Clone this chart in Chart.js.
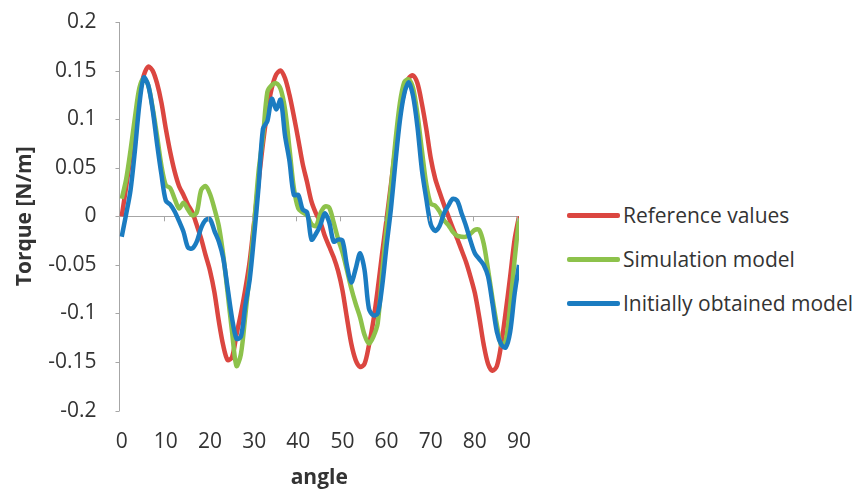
<!DOCTYPE html>
<html>
<head>
<meta charset="utf-8">
<script src="https://cdn.jsdelivr.net/npm/chart.js@4.4.1/dist/chart.umd.min.js"></script>
<style>
  body { margin: 0; background: #fff; }
  #page { position: relative; width: 859px; height: 491px; overflow: hidden; }
  #wrap { position: absolute; left: 0; top: 0; width: 540px; height: 491px; }
  #legend { position: absolute; left: 567px; top: 193px; font-family: 'Open Sans', sans-serif; font-size: 21px; color: #333; }
  .legend-item { display: flex; align-items: center; height: 44px; white-space: nowrap; }
  .legend-line { width: 53px; height: 5px; border-radius: 2px; margin-right: 3px; }
</style>
</head>
<body>
<div id="page">
  <div id="wrap"><canvas id="torque-chart"></canvas></div>
  <div id="legend"></div>
</div>
<script>
const angles = [];
for (let a = 0; a <= 90; a++) angles.push(a);

const seriesNames = ["Reference values", "Simulation model", "Initially obtained model"];

const referenceValues = [
  0.000, 0.030, 0.062, 0.095, 0.125, 0.145, 0.154, 0.150, 0.137, 0.117,
  0.090, 0.066, 0.046, 0.031, 0.022, 0.012, 0.004, -0.009, -0.023, -0.040,
  -0.056, -0.078, -0.108, -0.133, -0.148, -0.145, -0.122, -0.100, -0.075, -0.046,
  -0.006, 0.035, 0.075, 0.108, 0.132, 0.146, 0.150, 0.142, 0.125, 0.103,
  0.079, 0.054, 0.035, 0.015, 0.003, -0.006, -0.020, -0.031, -0.042, -0.056,
  -0.076, -0.104, -0.131, -0.148, -0.155, -0.152, -0.133, -0.108, -0.075, -0.038,
  -0.003, 0.033, 0.070, 0.105, 0.128, 0.142, 0.145, 0.137, 0.116, 0.090,
  0.060, 0.039, 0.025, 0.012, 0.000, -0.012, -0.023, -0.035, -0.047, -0.062,
  -0.079, -0.104, -0.132, -0.152, -0.159, -0.154, -0.131, -0.098, -0.062, -0.024,
  0.000
];

const simulationValues = [
  0.018, 0.038, 0.068, 0.102, 0.132, 0.142, 0.135, 0.112, 0.083, 0.052,
  0.032, 0.029, 0.018, 0.008, 0.014, 0.007, 0.001, 0.004, 0.027, 0.031,
  0.023, 0.008, -0.010, -0.040, -0.079, -0.119, -0.154, -0.142, -0.102, -0.058,
  -0.008, 0.046, 0.082, 0.128, 0.135, 0.137, 0.131, 0.110, 0.070, 0.029,
  0.008, 0.004, 0.001, -0.008, -0.010, 0.003, 0.010, 0.009, -0.006, -0.023,
  -0.037, -0.055, -0.074, -0.090, -0.104, -0.122, -0.131, -0.124, -0.110, -0.058,
  -0.012, 0.030, 0.077, 0.116, 0.138, 0.141, 0.132, 0.105, 0.068, 0.033,
  0.013, 0.011, 0.005, -0.004, -0.009, -0.016, -0.020, -0.021, -0.021, -0.018,
  -0.014, -0.014, -0.028, -0.055, -0.085, -0.112, -0.133, -0.128, -0.092, -0.045,
  -0.002
];

const initialModelValues = [
  -0.021, 0.002, 0.027, 0.068, 0.115, 0.143, 0.135, 0.110, 0.075, 0.043,
  0.016, 0.012, 0.005, -0.005, -0.016, -0.032, -0.033, -0.026, -0.012, -0.004,
  -0.003, -0.015, -0.026, -0.043, -0.074, -0.105, -0.126, -0.124, -0.092, -0.065,
  -0.020, 0.030, 0.090, 0.098, 0.121, 0.110, 0.120, 0.083, 0.057, 0.022,
  0.022, 0.007, 0.004, -0.024, -0.018, -0.009, 0.003, -0.006, -0.026, -0.024,
  -0.025, -0.050, -0.068, -0.054, -0.038, -0.055, -0.095, -0.102, -0.100, -0.072,
  -0.030, 0.008, 0.055, 0.098, 0.126, 0.138, 0.124, 0.092, 0.048, 0.018,
  -0.008, -0.015, -0.010, 0.003, 0.011, 0.018, 0.016, 0.003, -0.010, -0.025,
  -0.038, -0.044, -0.050, -0.062, -0.090, -0.119, -0.132, -0.135, -0.119, -0.080,
  -0.050
];

const xTickValues = [0, 10, 20, 30, 40, 50, 60, 70, 80, 90];
const yTickValues = [-0.2, -0.15, -0.1, -0.05, 0, 0.05, 0.1, 0.15, 0.2];

const FONT = "'Open Sans', sans-serif";
const TEXT = "#333333";
const AXIS = "#A6A6A6";

function toPoints(values) {
  return values.map((v, i) => ({ x: angles[i], y: v }));
}

// short Excel-style tick marks: left of the value axis, and below the zero line
const axisTicks = {
  id: "axisTicks",
  afterDatasetsDraw(chart) {
    const ctx = chart.ctx;
    const x = chart.scales.x;
    const y = chart.scales.y;
    const y0 = y.getPixelForValue(0);
    const left = chart.chartArea.left;
    ctx.save();
    ctx.strokeStyle = AXIS;
    ctx.lineWidth = 1;
    ctx.beginPath();
    yTickValues.forEach(v => {
      const py = Math.round(y.getPixelForValue(v)) + 0.5;
      ctx.moveTo(left - 4, py);
      ctx.lineTo(left, py);
    });
    xTickValues.forEach(v => {
      const px = Math.round(x.getPixelForValue(v + 9.5)) + 0.5;
      ctx.moveTo(px, y0);
      ctx.lineTo(px, y0 + 5);
    });
    ctx.stroke();
    ctx.restore();
  }
};

const datasets = [
  { label: seriesNames[0], data: toPoints(referenceValues), borderColor: "#DB4640", order: 3 },
  { label: seriesNames[1], data: toPoints(simulationValues), borderColor: "#8DC24B", order: 2 },
  { label: seriesNames[2], data: toPoints(initialModelValues), borderColor: "#1B7CC1", order: 1 }
];
datasets.forEach(ds => {
  ds.backgroundColor = ds.borderColor;
  ds.borderWidth = 4.5;
  ds.pointRadius = 0;
  ds.tension = 0.3;
  ds.fill = false;
});

const chart = new Chart(document.getElementById("torque-chart"), {
  type: "line",
  data: { datasets: datasets },
  plugins: [axisTicks],
  options: {
    responsive: true,
    maintainAspectRatio: false,
    animation: false,
    layout: { padding: { top: 22, right: 21, bottom: 0, left: 12 } },
    plugins: {
      tooltip: { enabled: false },
      legend: { display: false }
    },
    scales: {
      x: {
        type: "linear",
        min: -0.5,
        max: 90,
        afterBuildTicks: scale => { scale.ticks = xTickValues.map(v => ({ value: v })); },
        grid: { display: true, color: "transparent", tickColor: "transparent", drawTicks: true, tickLength: 16 },
        border: { display: false },
        ticks: { color: TEXT, font: { family: FONT, size: 21 }, padding: 3, maxRotation: 0 },
        title: { display: true, text: "angle", color: TEXT, font: { family: FONT, size: 21, weight: "bold" }, padding: { top: 8, bottom: 0 } }
      },
      y: {
        min: -0.2,
        max: 0.2,
        afterBuildTicks: scale => { scale.ticks = yTickValues.map(v => ({ value: v })); },
        grid: {
          color: ctx => (ctx.tick && ctx.tick.value === 0 ? AXIS : "transparent"),
          tickColor: "transparent",
          tickLength: 18,
          drawTicks: true
        },
        border: { display: true, color: AXIS },
        ticks: {
          color: TEXT,
          font: { family: FONT, size: 21 },
          padding: 5,
          callback: v => String(Number(v.toFixed(2)))
        },
        title: { display: true, text: "Torque [N/m]", color: TEXT, font: { family: FONT, size: 21, weight: "bold" }, padding: { top: 0, bottom: 6 } }
      }
    }
  }
});

// legend to the right of the plot, built from the chart's datasets
const legendBox = document.getElementById("legend");
chart.data.datasets.forEach(ds => {
  const item = document.createElement("div");
  item.className = "legend-item";
  const line = document.createElement("span");
  line.className = "legend-line";
  line.style.background = ds.borderColor;
  const label = document.createElement("span");
  label.textContent = ds.label;
  item.appendChild(line);
  item.appendChild(label);
  legendBox.appendChild(item);
});
</script>
</body>
</html>
